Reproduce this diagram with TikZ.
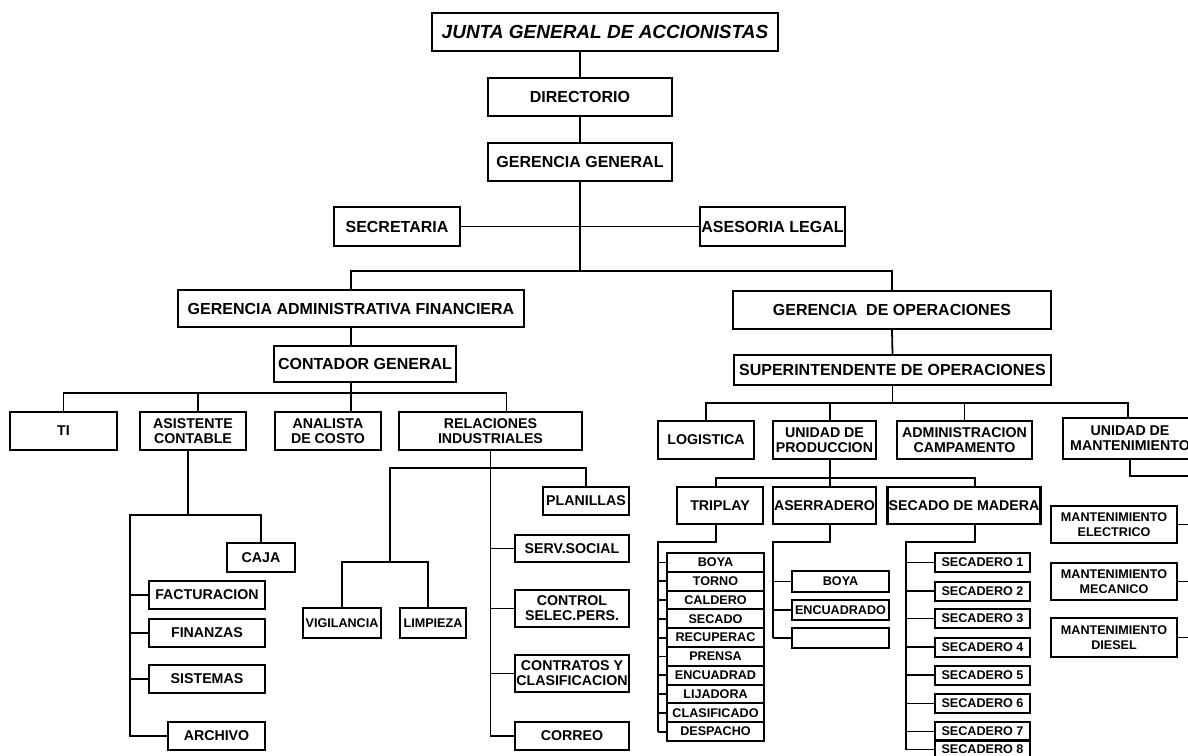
\documentclass[tikz,border=0pt]{standalone}
\usepackage{fontspec}
\setmainfont{Liberation Sans}
\begin{document}
\begin{tikzpicture}[x=0.5pt,y=-0.5pt,
    box/.style={draw,line width=1.2pt,inner sep=0.5pt,align=center,font=\bfseries\fontsize{7.1}{7.6}\selectfont},
    big/.style={box,font=\bfseries\fontsize{8}{9}\selectfont},
    small/.style={box,line width=1pt,font=\bfseries\fontsize{6.3}{7.4}\selectfont},
    link/.style={line width=0.9pt}]
    \useasboundingbox (0,0) rectangle (1188,755);
    %% Top levels
    \node[box,minimum width=173pt,minimum height=19pt,font=\bfseries\itshape\fontsize{9.5}{10}\selectfont] (junta) at (605,32) {JUNTA GENERAL DE ACCIONISTAS};
    \node[big,minimum width=92pt,minimum height=19pt] (dir) at (580,97) {DIRECTORIO};
    \node[big,minimum width=92pt,minimum height=19pt] (gg) at (580,162) {GERENCIA GENERAL};
    \node[big,minimum width=63pt,minimum height=19.5pt] (sec) at (397,226.5) {SECRETARIA};
    \node[big,minimum width=72.5pt,minimum height=19.5pt] (ases) at (772.5,226.5) {ASESORIA LEGAL};
    \node[big,minimum width=173pt,minimum height=18.5pt] (gaf) at (351,308.5) {GERENCIA ADMINISTRATIVA FINANCIERA};
    \node[big,minimum width=159pt,minimum height=19pt] (gop) at (892,310) {GERENCIA \ DE OPERACIONES};
    \node[big,minimum width=91pt,minimum height=18pt] (cont) at (365,364) {CONTADOR GENERAL};
    \node[big,minimum width=158.5pt,minimum height=15pt] (sup) at (892.5,370) {SUPERINTENDENTE DE OPERACIONES};
    %% Contador branches
    \node[box,minimum width=53.5pt,minimum height=19pt] (ti) at (63.5,431) {TI};
    \node[box,minimum width=53pt,minimum height=19pt] (asis) at (193,431) {ASISTENTE\\CONTABLE};
    \node[box,minimum width=53pt,minimum height=19pt] (anal) at (328,431) {ANALISTA\\DE COSTO};
    \node[box,minimum width=91.5pt,minimum height=19pt] (rel) at (490.5,431) {RELACIONES\\INDUSTRIALES};
    %% Asistente contable
    \node[box,minimum width=34pt,minimum height=14.5pt] (caja) at (261,557.5) {CAJA};
    \node[box,minimum width=58pt,minimum height=14pt] (fact) at (207,595) {FACTURACION};
    \node[box,minimum width=58pt,minimum height=14pt] (fin) at (207,633) {FINANZAS};
    \node[box,minimum width=58pt,minimum height=14pt] (sist) at (207,679) {SISTEMAS};
    \node[box,minimum width=48.5pt,minimum height=14pt] (arch) at (216.5,736) {ARCHIVO};
    %% Relaciones industriales
    \node[box,minimum width=43pt,minimum height=14pt] (plan) at (586,501) {PLANILLAS};
    \node[box,minimum width=57pt,minimum height=13.5pt] (serv) at (572,548.5) {SERV.SOCIAL};
    \node[box,minimum width=57pt,minimum height=18.5pt] (ctrl) at (572,608.5) {CONTROL\\SELEC.PERS.};
    \node[box,minimum width=57pt,minimum height=18.5pt] (contr) at (572,673.5) {CONTRATOS Y\\CLASIFICACION};
    \node[box,minimum width=57pt,minimum height=14pt] (corr) at (572,736) {CORREO};
    \node[small,minimum width=39pt,minimum height=15pt] (vig) at (342,623) {VIGILANCIA};
    \node[small,minimum width=33pt,minimum height=15pt] (limp) at (433,623) {LIMPIEZA};
    %% Operaciones
    \node[box,minimum width=48pt,minimum height=19pt] (log) at (706,440) {LOGISTICA};
    \node[box,minimum width=51.5pt,minimum height=19pt] (udp) at (824.5,440) {UNIDAD DE\\PRODUCCION};
    \node[box,minimum width=67.5pt,minimum height=19pt] (adm) at (964.5,440) {ADMINISTRACION\\CAMPAMENTO};
    \node[box,minimum width=67pt,minimum height=20.5pt] (udm) at (1130,438.5) {UNIDAD DE\\MANTENIMIENTO};
    \node[box,minimum width=43pt,minimum height=18.5pt] (tri) at (720,505.5) {TRIPLAY};
    \node[box,minimum width=51.5pt,minimum height=18.5pt] (ase) at (824.5,505.5) {ASERRADERO};
    \node[box,minimum width=76pt,minimum height=18.5pt] (secm) at (964,505.5) {SECADO DE MADERA};
    %% Triplay
    \foreach \t [count=\i] in {BOYA,TORNO,CALDERO,SECADO,RECUPERAC,PRENSA,ENCUADRAD,LIJADORA,CLASIFICADO,DESPACHO}
        \node[small,minimum width=48.5pt,minimum height=9.4pt] (t\i) at (715.5,{543.6+18.8*\i}) {\t};
    %% Aserradero
    \node[small,minimum width=48.5pt,minimum height=10.5pt] (e1) at (840.5,581.5) {BOYA};
    \node[small,minimum width=48.5pt,minimum height=10pt] (e2) at (840.5,610) {ENCUADRADO};
    \node[small,minimum width=48.5pt,minimum height=10pt] (e3) at (840.5,638) {};
    %% Secado de madera
    \foreach \y [count=\i] in {562.5,591,618.5,647,675,703.5,731.5,749.5}
        \node[small,minimum width=47.5pt,minimum height=9.5pt] (s\i) at (982.5,\y) {SECADERO \i};
    %% Mantenimiento
    \node[small,minimum width=63pt,minimum height=18.5pt] (me) at (1114,524.5) {MANTENIMIENTO\\ELECTRICO};
    \node[small,minimum width=63pt,minimum height=18.5pt] (mm) at (1114,581.5) {MANTENIMIENTO\\MECANICO};
    \node[small,minimum width=63pt,minimum height=19.5pt] (md) at (1114,637.5) {MANTENIMIENTO\\DIESEL};
    %% connectors top
    \draw[link] (dir.north |- junta.south) -- (dir.north);
    \draw[link] (dir.south) -- (gg.north);
    \draw[link] (sec.east) -- (ases.west);
    \draw[link] (gg.south) -- (gg.south |- 0,271) coordinate (hub);
    \draw[link] (gaf.north) |- (hub) -| (gop.north);
    \draw[link] (gaf.south) -- (gaf.south |- cont.north);
    \draw[link] (gop.south) -- (sup.north);
    %% contador
    \draw[link] (gaf.south |- cont.south) -- ++(0,10) coordinate (cbus);
    \draw[link] (ti.north) |- ([xshift=8pt]rel.north |- cbus) -- ([xshift=8pt]rel.north);
    \draw[link] ([xshift=2.5pt]asis.north) -- ([xshift=2.5pt]asis.north |- cbus);
    \draw[link] (anal.north -| cbus) -- (cbus);
    %% asistente
    \coordinate (aspine) at (130,515);
    \draw[link] ([xshift=-2.5pt]asis.south) -- ([xshift=-2.5pt]asis.south |- aspine);
    \draw[link] (caja.north) |- (aspine) -- (aspine |- arch.west) -- (arch.west);
    \foreach \n in {fact,fin,sist}
        \draw[link] (\n.west) -- (\n.west -| aspine);
    %% relaciones
    \coordinate (rbus) at (390,468);
    \coordinate (vbus) at (390,562);
    \draw[link] (rel.south) -- (rel.south |- corr.west) -- (corr.west);
    \draw[link] (plan.north) |- (rbus) -- (vbus);
    \draw[link] (vig.north) |- ([xshift=-2.5pt]limp.north |- vbus) -- ([xshift=-2.5pt]limp.north);
    \foreach \n in {serv,ctrl,contr}
        \draw[link] (\n.west) -- (\n.west -| rel.south);
    %% operaciones
    \draw[link] (sup.south) -- ++(0,17) coordinate (opbus);
    \draw[link] (log.north) |- ([xshift=-1pt]udm.north |- opbus) -- ([xshift=-1pt]udm.north);
    \draw[link] ([xshift=2.75pt]udp.north) -- ([xshift=2.75pt]udp.north |- opbus);
    \draw[link] (adm.north) -- (adm.north |- opbus);
    %% produccion
    \draw[link] ([xshift=2.75pt]udp.south) -- ++(0,18) coordinate (pbus);
    \draw[link] ([xshift=-2pt]tri.north) |- ([xshift=5.5pt]secm.north |- pbus) -- ([xshift=5.5pt]secm.north);
    \draw[link] (ase.north -| pbus) -- (pbus);
    %% triplay
    \coordinate (tspine) at (658,542);
    \draw[link] ([xshift=-2pt]tri.south) |- (tspine) -- (tspine |- t10.west);
    \foreach \i in {1,...,10}
        \draw[link] (t\i.west) -- (t\i.west -| tspine);
    %% aserradero
    \coordinate (espine) at (773,542);
    \draw[link] ([xshift=2.75pt]ase.south) |- (espine) -- (espine |- e3.west);
    \foreach \n in {e1,e2,e3}
        \draw[link] (\n.west) -- (\n.west -| espine);
    %% secado
    \coordinate (sspine) at (906,542);
    \draw[link] ([xshift=5.5pt]secm.south) |- (sspine) -- (sspine |- s8.west);
    \foreach \i in {1,...,8}
        \draw[link] (s\i.west) -- (s\i.west -| sspine);
    %% mantenimiento
    \coordinate (mspine) at (1196,476);
    \draw[link] (udm.south) |- (mspine) -- (mspine |- md.east);
    \foreach \n in {me,mm,md}
        \draw[link] (\n.east) -- (\n.east -| mspine);
\end{tikzpicture}
\end{document}
